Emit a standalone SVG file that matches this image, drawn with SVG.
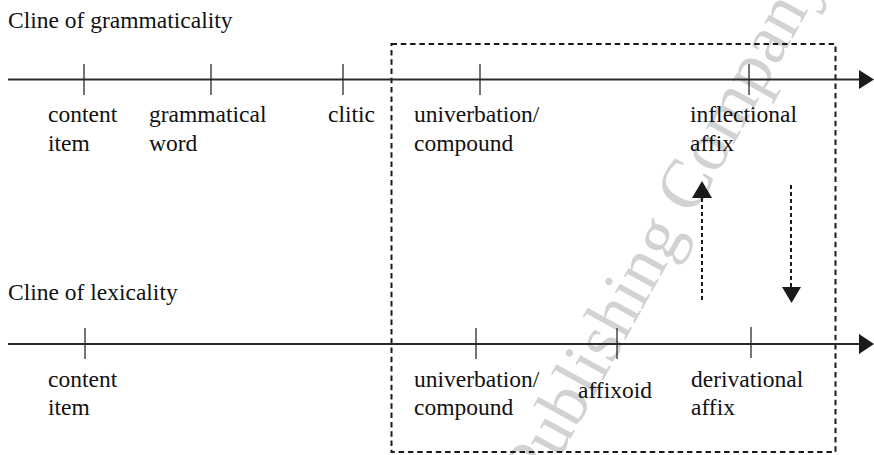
<svg xmlns="http://www.w3.org/2000/svg" width="874" height="455" viewBox="0 0 874 455">
<style>
text{font-family:"Liberation Serif","Times New Roman",serif;font-size:23.5px;fill:#111}
.axis{stroke:#2a2a2a;stroke-width:2;fill:none}
.tick{stroke:#2a2a2a;stroke-width:1.3;fill:none}
.box{stroke:#1a1a1a;stroke-width:2;fill:none;stroke-dasharray:5.5 3.8}
.dash{stroke:#1a1a1a;stroke-width:2;fill:none;stroke-dasharray:4 3}
.head{fill:#1a1a1a}
.wm{font-size:70px;fill:#d2d2d2}
</style>
<text class="wm" x="540" y="494" transform="rotate(-61 540 494)">Publishing Company</text>
<g id="titles">
<text x="8" y="28">Cline of grammaticality</text>
<text x="8" y="300">Cline of lexicality</text>
</g>
<g id="frame">
<rect class="box" x="391.5" y="44" width="444" height="408"/>
</g>
<g id="connectors">
<line class="axis" x1="8" y1="79.5" x2="861" y2="79.5"/>
<polygon class="head" points="859,70 874,79.5 859,89"/>
<line class="axis" x1="8" y1="344" x2="861" y2="344"/>
<polygon class="head" points="859,334 874,344 859,354"/>
<line class="dash" x1="702" y1="300" x2="702" y2="197"/>
<polygon class="head" points="692,198 712,198 702,181"/>
<line class="dash" x1="791" y1="185" x2="791" y2="288"/>
<polygon class="head" points="782,287 801,287 791.5,303"/>
</g>
<g id="g-content">
<line class="tick" x1="84" y1="64" x2="84" y2="95"/>
<text x="48" y="122">content</text><text x="48" y="151">item</text>
</g>
<g id="g-grammatical">
<line class="tick" x1="211" y1="64" x2="211" y2="95"/>
<text x="149" y="122">grammatical</text><text x="149" y="151">word</text>
</g>
<g id="g-clitic">
<line class="tick" x1="343" y1="64" x2="343" y2="95"/>
<text x="328" y="122">clitic</text>
</g>
<g id="g-univerbation">
<line class="tick" x1="480" y1="64" x2="480" y2="95"/>
<text x="414" y="122">univerbation/</text><text x="414" y="151">compound</text>
</g>
<g id="g-inflectional">
<line class="tick" x1="749" y1="64" x2="749" y2="95"/>
<text x="690" y="122">inflectional</text><text x="690" y="151">affix</text>
</g>
<g id="l-content">
<line class="tick" x1="85" y1="328" x2="85" y2="359"/>
<text x="48" y="387">content</text><text x="48" y="415">item</text>
</g>
<g id="l-univerbation">
<line class="tick" x1="476" y1="328" x2="476" y2="359"/>
<text x="414" y="387">univerbation/</text><text x="414" y="415">compound</text>
</g>
<g id="l-affixoid">
<line class="tick" x1="617" y1="328" x2="617" y2="359"/>
<text x="578" y="398">affixoid</text>
</g>
<g id="l-derivational">
<line class="tick" x1="751" y1="327" x2="751" y2="358"/>
<text x="691" y="387">derivational</text><text x="691" y="415">affix</text>
</g>
</svg>
